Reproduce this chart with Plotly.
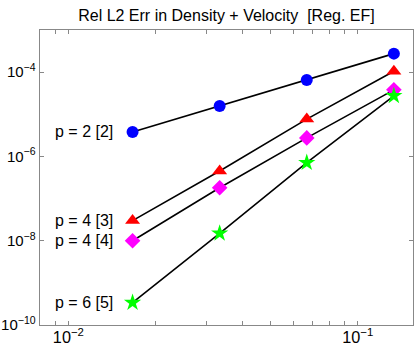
import plotly.graph_objects as go
import numpy as np

h = [1/60, 1/30, 1/15, 2/15]
err_p2 = [3.8e-6, 1.58e-5, 6.5e-5, 2.75e-4]
err_p4a = [3.0e-8, 4.5e-7, 7.7e-6, 1.05e-4]
err_p4b = [1.0e-8, 1.8e-7, 2.75e-6, 3.8e-5]
err_p6 = [3.4e-10, 1.5e-8, 7.1e-7, 2.75e-5]
labels = ["p = 2 [2]", "p = 4 [3]", "p = 4 [4]", "p = 6 [5]"]

series = [
    (err_p2, "circle", "#0000FF", 12),
    (err_p4a, "triangle-up", "#FF0000", 13),
    (err_p4b, "diamond", "#FF00FF", 12),
    (err_p6, "star", "#00FF00", 13),
]

fig = go.Figure()
for (ys, sym, col, sz), lab in zip(series, labels):
    fig.add_trace(go.Scatter(
        x=h, y=ys, mode="lines+markers",
        line=dict(color="black", width=1.6),
        marker=dict(symbol=sym, color=col, size=sz, line=dict(width=0)),
        showlegend=False, cliponaxis=False, hoverinfo="skip",
    ))
    fig.add_annotation(x=np.log10(h[0]), y=np.log10(ys[0]), text=lab,
                       xanchor="right", yanchor="middle", xshift=-18,
                       showarrow=False,
                       font=dict(size=16, color="black", family="Liberation Sans, Arial"))

axis_common = dict(
    showgrid=False, zeroline=False, showline=True, linecolor="#888888", linewidth=1,
    mirror="ticks", ticks="inside", ticklen=4, tickcolor="#888888", automargin=False,
    exponentformat="power",
)

fig.update_xaxes(type="log", range=[-2.098, -0.809], dtick=1,
                 ticklabelstandoff=-2,
                 tickfont=dict(size=13, color="black", family="Liberation Sans, Arial"),
                 minor=dict(ticks="inside", ticklen=4, tickcolor="#888888", dtick="D1", showgrid=False),
                 **axis_common)
fig.update_yaxes(type="log", range=[-10, -3], dtick=2, ticklabelstandoff=1,
                 tickfont=dict(size=12, color="black", family="Liberation Sans, Arial"),
                 **axis_common)

fig.update_layout(
    width=414, height=350,
    margin=dict(l=40, r=1, t=30, b=25, autoexpand=False),
    paper_bgcolor="white", plot_bgcolor="white",
    title=dict(text="Rel L2 Err in Density + Velocity  [Reg. EF]", x=0.547, xanchor="center",
               y=0.957, yanchor="middle", automargin=False,
               font=dict(size=16, color="black", family="Liberation Sans, Arial")),
)

fig.write_html("out.html", config={"displayModeBar": False},
               post_script="document.body.style.margin='0';")
